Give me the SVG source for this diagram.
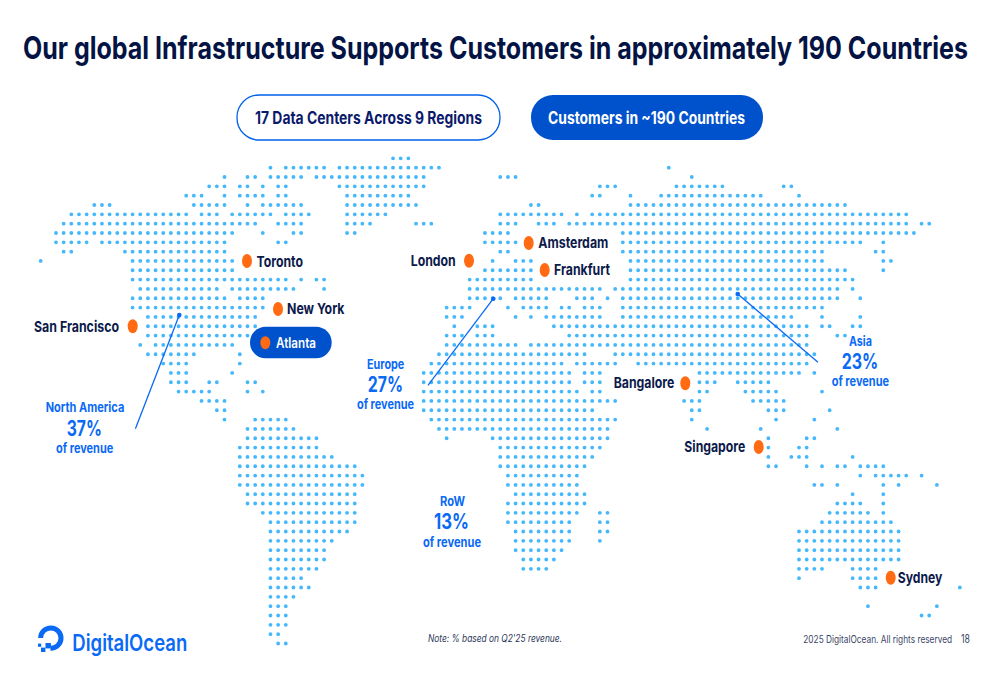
<svg xmlns="http://www.w3.org/2000/svg" width="1000" height="685" viewBox="0 0 1000 685">
<style>
text{font-family:"Inter","Liberation Sans",sans-serif}
.t{font-weight:700;fill:#031344}
.c{font-size:15px;font-weight:700;fill:#0c1a4b}
.r{font-size:13px;font-weight:700;fill:#0a69f5;text-anchor:start}
.p{font-size:21px;font-weight:700;fill:#0a69f5}
.o{fill:#ff6a13}
.ln{stroke:#0a69f5;stroke-width:1.3;fill:none}
.bd{fill:#0a69f5}
#map path{fill:none;stroke:#45b8fb;stroke-width:.5;stroke-linecap:round;stroke-dasharray:0 1}
</style>
<rect width="1000" height="685" fill="#fff"/>
<text class="t" transform="translate(23 59) scale(.82 1)" font-size="31.5" textLength="1152.4" lengthAdjust="spacingAndGlyphs">Our global Infrastructure Supports Customers in approximately 190 Countries</text>
<g id="map" transform="translate(40.67 158.33) scale(7.66)">
<path d="M46 0H48.01"/>
<path transform="translate(0 1.218)" d="M30 0H30.01M32 0H37.01M39 0H52.01M82 0H82.01"/>
<path transform="translate(0 2.436)" d="M24 0H24.01M27 0H28.01M30 0H34.01M36 0H50.01M60 0H62.01M85 0H85.01"/>
<path transform="translate(0 3.654)" d="M22 0H24.01M26 0H27.01M29 0H29.01M31 0H32.01M39 0H50.01M73 0H75.01M83 0H89.01M97 0H98.01"/>
<path transform="translate(0 4.872)" d="M19 0H21.01M24 0H24.01M26 0H29.01M31 0H32.01M40 0H48.01M72 0H73.01M77 0H77.01M81 0H94.01M99 0H99.01"/>
<path transform="translate(0 6.09)" d="M7 0H9.01M20 0H24.01M27 0H27.01M29 0H34.01M40 0H49.01M64 0H65.01M77 0H105.01"/>
<path transform="translate(0 7.308)" d="M4 0H19.01M21 0H23.01M25 0H30.01M32 0H35.01M40 0H45.01M60 0H68.01M70 0H70.01M72 0H113.01"/>
<path transform="translate(0 8.526)" d="M3 0H28.01M31 0H34.01M40 0H43.01M49 0H51.01M60 0H62.01M65 0H67.01M69 0H113.01M115 0H116.01"/>
<path transform="translate(0 9.744)" d="M2 0H25.01M29 0H29.01M33 0H34.01M40 0H41.01M58 0H61.01M76 0H114.01"/>
<path transform="translate(0 10.962)" d="M2 0H6.01M8 0H24.01M31 0H32.01M58 0H62.01M76 0H107.01M110 0H110.01"/>
<path transform="translate(0 12.18)" d="M3 0H4.01M11 0H24.01M60 0H61.01M76 0H102.01M109 0H110.01"/>
<path transform="translate(0 13.398)" d="M0 0H.01M12 0H25.01M59 0H59.01M62 0H64.01M77 0H102.01M110 0H111.01"/>
<path transform="translate(0 14.616)" d="M12 0H25.01M58 0H64.01M77 0H105.01M110 0H110.01"/>
<path transform="translate(0 15.834)" d="M12 0H32.01M34 0H34.01M36 0H37.01M56 0H64.01M77 0H106.01"/>
<path transform="translate(0 17.052)" d="M13 0H23.01M25 0H33.01M37 0H37.01M56 0H73.01M75 0H104.01M106 0H106.01"/>
<path transform="translate(0 18.27)" d="M12 0H24.01M26 0H29.01M56 0H60.01M62 0H66.01M70 0H72.01M74 0H74.01M76 0H104.01M107 0H107.01"/>
<path transform="translate(0 19.488)" d="M12 0H29.01M53 0H56.01M61 0H61.01M63 0H66.01M68 0H69.01M71 0H73.01M76 0H102.01"/>
<path transform="translate(0 20.706)" d="M14 0H28.01M53 0H55.01M62 0H62.01M64 0H64.01M66 0H73.01M76 0H98.01M102 0H102.01M107 0H107.01"/>
<path transform="translate(0 21.924)" d="M14 0H28.01M54 0H54.01M57 0H59.01M67 0H100.01M102 0H103.01M106 0H107.01"/>
<path transform="translate(0 23.142)" d="M14 0H28.01M53 0H55.01M57 0H59.01M69 0H100.01M104 0H105.01"/>
<path transform="translate(0 24.36)" d="M13 0H13.01M15 0H25.01M53 0H62.01M64 0H100.01"/>
<path transform="translate(0 25.578)" d="M14 0H20.01M26 0H26.01M52 0H71.01M75 0H101.01"/>
<path transform="translate(0 26.796)" d="M16 0H19.01M26 0H26.01M51 0H68.01M70 0H75.01M78 0H100.01"/>
<path transform="translate(0 28.014)" d="M17 0H19.01M25 0H25.01M50 0H69.01M71 0H73.01M86 0H99.01M101 0H101.01"/>
<path transform="translate(0 29.232)" d="M17 0H19.01M22 0H23.01M27 0H28.01M50 0H69.01M71 0H73.01M86 0H88.01M91 0H95.01"/>
<path transform="translate(0 30.45)" d="M18 0H22.01M27 0H27.01M29 0H29.01M50 0H70.01M72 0H73.01M86 0H87.01M92 0H96.01M102 0H102.01"/>
<path transform="translate(0 31.668)" d="M21 0H24.01M50 0H75.01M84 0H86.01M93 0H97.01"/>
<path transform="translate(0 32.886)" d="M23 0H24.01M50 0H72.01M85 0H86.01M95 0H97.01M103 0H103.01"/>
<path transform="translate(0 34.104)" d="M24 0H24.01M28 0H32.01M51 0H75.01M85 0H85.01M96 0H96.01M101 0H101.01"/>
<path transform="translate(0 35.322)" d="M27 0H33.01M52 0H74.01M87 0H87.01M94 0H94.01M104 0H104.01"/>
<path transform="translate(0 36.54)" d="M27 0H36.01M53 0H53.01M59 0H74.01M95 0H95.01M100 0H101.01"/>
<path transform="translate(0 37.758)" d="M26 0H36.01M60 0H73.01M95 0H95.01M99 0H100.01"/>
<path transform="translate(0 38.976)" d="M26 0H38.01M60 0H72.01M95 0H95.01M98 0H100.01M106 0H106.01"/>
<path transform="translate(0 40.194)" d="M26 0H41.01M60 0H71.01M95 0H96.01M100 0H100.01M102 0H102.01M104 0H105.01M107 0H110.01"/>
<path transform="translate(0 41.412)" d="M26 0H42.01M61 0H70.01M107 0H107.01M109 0H113.01M115 0H115.01"/>
<path transform="translate(0 42.63)" d="M26 0H42.01M61 0H70.01M101 0H102.01M104 0H104.01M110 0H110.01M112 0H112.01M117 0H117.01"/>
<path transform="translate(0 43.848)" d="M27 0H41.01M62 0H71.01M106 0H106.01M110 0H110.01"/>
<path transform="translate(0 45.066)" d="M27 0H41.01M61 0H71.01M104 0H107.01M110 0H110.01"/>
<path transform="translate(0 46.284)" d="M29 0H41.01M61 0H70.01M73 0H74.01M103 0H108.01M110 0H110.01"/>
<path transform="translate(0 47.502)" d="M30 0H41.01M61 0H69.01M73 0H74.01M102 0H111.01"/>
<path transform="translate(0 48.72)" d="M30 0H40.01M62 0H69.01M73 0H74.01M99 0H112.01"/>
<path transform="translate(0 49.938)" d="M30 0H38.01M62 0H69.01M73 0H73.01M99 0H112.01"/>
<path transform="translate(0 51.156)" d="M30 0H37.01M62 0H68.01M99 0H112.01"/>
<path transform="translate(0 52.374)" d="M30 0H37.01M63 0H67.01M99 0H112.01"/>
<path transform="translate(0 53.592)" d="M30 0H36.01M63 0H66.01M99 0H102.01M106 0H109.01"/>
<path transform="translate(0 54.81)" d="M30 0H34.01M99 0H99.01M106 0H109.01"/>
<path transform="translate(0 56.028)" d="M30 0H35.01M107 0H109.01M120 0H120.01"/>
<path transform="translate(0 57.246)" d="M30 0H33.01"/>
<path transform="translate(0 58.464)" d="M30 0H32.01M108 0H108.01M117 0H117.01"/>
<path transform="translate(0 59.682)" d="M30 0H32.01M115 0H116.01"/>
<path transform="translate(0 60.9)" d="M30 0H32.01"/>
<path transform="translate(0 62.118)" d="M30 0H31.01"/>
<path transform="translate(0 63.336)" d="M31 0H32.01"/>
</g>
<g id="connectors">
<path class="ln" d="M135.4 428.7L179.3 315"/>
<circle class="bd" cx="179.3" cy="315" r="2.3"/>
<path class="ln" d="M428 385.3L493.3 298.7"/>
<circle class="bd" cx="493.3" cy="298.7" r="2.3"/>
<path class="ln" d="M818 362.3L737.7 294"/>
<circle class="bd" cx="737.7" cy="294" r="2.3"/>
</g>
<g id="pill-data-centers">
<rect x="237" y="95" width="263" height="45" rx="22" fill="#fff" stroke="#0061eb" stroke-width="1.3"/>
<text x="255" y="123.5" font-size="17" font-weight="700" fill="#0b1a6b" textLength="227" lengthAdjust="spacingAndGlyphs">17 Data Centers Across 9 Regions</text>
</g>
<g id="pill-customers">
<rect x="531" y="95" width="232" height="45" rx="22" fill="#0052cc"/>
<text x="548" y="123.5" font-size="17" font-weight="700" fill="#fff" textLength="197" lengthAdjust="spacingAndGlyphs">Customers in ~190 Countries</text>
</g>
<g id="city-toronto"><ellipse class="o" cx="247" cy="261" rx="5" ry="7"/><text class="c" x="256.5" y="266.7" textLength="46.5" lengthAdjust="spacingAndGlyphs">Toronto</text></g>
<g id="city-london"><ellipse class="o" cx="469" cy="260.7" rx="5" ry="7"/><text class="c" x="410.7" y="266" textLength="45" lengthAdjust="spacingAndGlyphs">London</text></g>
<g id="city-new-york"><ellipse class="o" cx="278" cy="309" rx="5" ry="7"/><text class="c" x="287" y="313.5" textLength="57.5" lengthAdjust="spacingAndGlyphs">New York</text></g>
<g id="city-amsterdam"><ellipse class="o" cx="528.7" cy="243" rx="5" ry="7"/><text class="c" x="538.3" y="248.3" textLength="70" lengthAdjust="spacingAndGlyphs">Amsterdam</text></g>
<g id="city-frankfurt"><ellipse class="o" cx="544.7" cy="270" rx="5" ry="7"/><text class="c" x="554" y="275.3" textLength="56" lengthAdjust="spacingAndGlyphs">Frankfurt</text></g>
<g id="city-san-francisco"><ellipse class="o" cx="132.7" cy="326.3" rx="5" ry="7"/><text class="c" x="34" y="331.7" textLength="85" lengthAdjust="spacingAndGlyphs">San Francisco</text></g>
<g id="city-atlanta">
<rect x="250" y="326.7" width="81.7" height="31.6" rx="15.8" fill="#0052cc"/>
<ellipse class="o" cx="265.3" cy="342.7" rx="5" ry="6.5"/>
<text x="276" y="347.5" font-size="14.5" font-weight="600" fill="#fff" textLength="40" lengthAdjust="spacingAndGlyphs">Atlanta</text>
</g>
<g id="city-bangalore"><ellipse class="o" cx="685.3" cy="383.3" rx="5" ry="7"/><text class="c" x="613.7" y="388.3" textLength="60.7" lengthAdjust="spacingAndGlyphs">Bangalore</text></g>
<g id="city-singapore"><ellipse class="o" cx="758.7" cy="447" rx="5" ry="7"/><text class="c" x="684.3" y="451.7" textLength="61" lengthAdjust="spacingAndGlyphs">Singapore</text></g>
<g id="city-sydney"><ellipse class="o" cx="890.7" cy="577.7" rx="5" ry="7"/><text class="c" x="897.7" y="583.3" textLength="44.7" lengthAdjust="spacingAndGlyphs">Sydney</text></g>
<g id="region-north-america">
<text class="r" x="45.7" y="411.7" textLength="78.6" lengthAdjust="spacingAndGlyphs">North America</text>
<text class="p" x="66.7" y="435.7" textLength="35.3" lengthAdjust="spacingAndGlyphs">37%</text>
<text class="r" x="56" y="452.7" textLength="57.3" lengthAdjust="spacingAndGlyphs">of revenue</text>
</g>
<g id="region-europe">
<text class="r" x="367" y="369" textLength="37.3" lengthAdjust="spacingAndGlyphs">Europe</text>
<text class="p" x="367.7" y="391.7" textLength="35.3" lengthAdjust="spacingAndGlyphs">27%</text>
<text class="r" x="357" y="409" textLength="57" lengthAdjust="spacingAndGlyphs">of revenue</text>
</g>
<g id="region-asia">
<text class="r" x="849" y="345.7" textLength="23" lengthAdjust="spacingAndGlyphs">Asia</text>
<text class="p" x="841.7" y="369" textLength="36.6" lengthAdjust="spacingAndGlyphs">23%</text>
<text class="r" x="831.7" y="386.3" textLength="57.3" lengthAdjust="spacingAndGlyphs">of revenue</text>
</g>
<g id="region-row">
<text class="r" x="440" y="506" textLength="25" lengthAdjust="spacingAndGlyphs">RoW</text>
<text class="p" x="434" y="529" textLength="35" lengthAdjust="spacingAndGlyphs">13%</text>
<text class="r" x="423" y="547" textLength="58" lengthAdjust="spacingAndGlyphs">of revenue</text>
</g>
<g id="logo">
<path d="M50.5 648.3A10.2 10.2 0 1 0 40.6 638" fill="none" stroke="#0a69f5" stroke-width="5"/>
<rect class="bd" x="45.5" y="643" width="5.4" height="5.4"/>
<rect class="bd" x="41" y="647.6" width="4.4" height="4.4"/>
<rect class="bd" x="38" y="643.6" width="3.2" height="3.2"/>
<text x="72.3" y="650.7" font-size="23" font-weight="600" fill="#0a69f5" textLength="115" lengthAdjust="spacingAndGlyphs">DigitalOcean</text>
</g>
<text x="428" y="642" font-size="10" font-style="italic" fill="#2a3557" textLength="134" lengthAdjust="spacingAndGlyphs">Note: % based on Q2'25 revenue.</text>
<text transform="translate(803.3 642.5) scale(.8 1)" font-size="10.5" fill="#3a4566" textLength="186" lengthAdjust="spacingAndGlyphs">2025 DigitalOcean. All rights reserved</text>
<text x="961" y="642.8" font-size="12" fill="#3a4566" textLength="9" lengthAdjust="spacingAndGlyphs">18</text>
</svg>
